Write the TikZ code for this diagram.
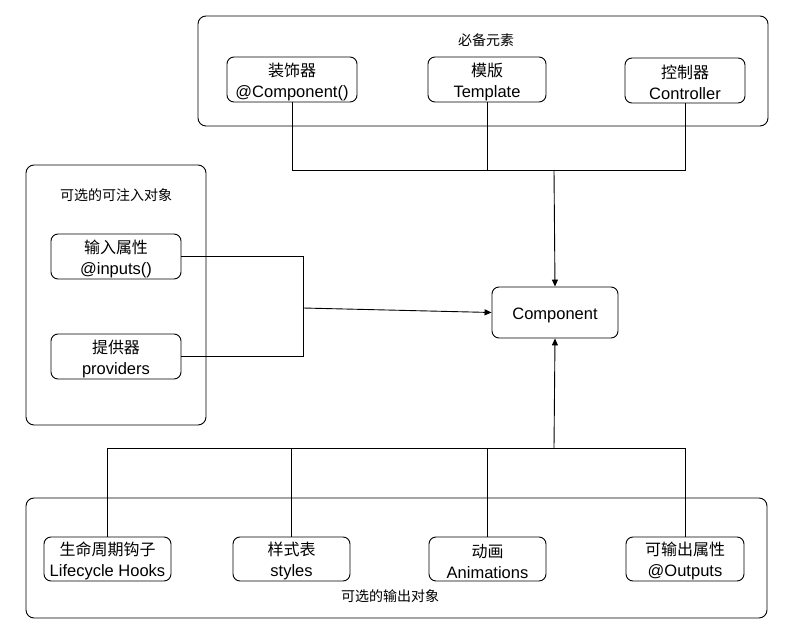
\documentclass[tikz,border=0pt]{standalone}
\usepackage{fontspec}
\setmainfont{Liberation Sans}
\newfontfamily\cjk{Noto Sans CJK SC}
\usetikzlibrary{arrows.meta}
% first (Chinese) line of a two-line box, with a strut to centre the pair
\newcommand\zhline[1]{{\cjk\fontsize{16}{21}\selectfont\rule{0pt}{18pt}#1}}
\begin{document}
\begin{tikzpicture}[x=1pt,y=-1pt,
  line width=0.9pt,
  group/.style={draw,rounded corners=8pt},
  item/.style={draw,rounded corners=7pt,align=center,inner sep=0pt,
    font=\fontsize{16.5}{21}\selectfont,minimum height=45pt},
  title/.style={font=\cjk\fontsize{14}{16}\selectfont},
  link/.style={line width=0.9pt},
  arrowlink/.style={line width=0.9pt,-{Triangle[length=7pt,width=6pt]}}]
\useasboundingbox (0,0) rectangle (807,637);

% groups
\draw[group] (198,16) rectangle (768,126);
\draw[group] (26,165) rectangle (206,425);
\draw[group] (26,498) rectangle (767,618);
\node[title] (tReq) at (486,40) {必备元素};
\node[title] (tIn) at (116,195) {可选的可注入对象};
\node[title] (tOut) at (390,596) {可选的输出对象};

% required elements
\node[item,minimum width=130pt] (deco) at (292,79.5) {\zhline{装饰器}\\@Component()};
\node[item,minimum width=118pt] (tmpl) at (487,79.5) {\zhline{模版}\\Template};
\node[item,minimum width=120pt] (ctrl) at (685,80.5) {\zhline{控制器}\\Controller};

% central component
\node[item,minimum width=126pt,minimum height=51pt] (comp) at (555,312.5) {\rule{0pt}{18pt}Component};

% injectables
\node[item,minimum width=130pt] (inp) at (116,256.5) {\zhline{输入属性}\\@inputs()};
\node[item,minimum width=130pt] (prov) at (116,356.5) {\zhline{提供器}\\providers};

% outputs
\node[item,minimum width=127pt,minimum height=44pt] (life) at (107.5,559) {\zhline{生命周期钩子}\\Lifecycle Hooks};
\node[item,minimum width=117pt,minimum height=44pt] (sty) at (291.5,559) {\zhline{样式表}\\styles};
\node[item,minimum width=117pt,minimum height=44pt] (anim) at (487.5,559) {\zhline{动画}\\Animations};
\node[item,minimum width=118pt,minimum height=44pt] (outp) at (685,559) {\zhline{可输出属性}\\@Outputs};

% junction points
\coordinate (topBus) at (554,170);
\coordinate (leftBus) at (303,308);
\coordinate (botBus) at (554,448);

% top bus
\draw[link] (deco.south) |- (ctrl.south |- topBus) -- (ctrl.south);
\draw[link] (tmpl.south) -- (tmpl.south |- topBus);
\draw[arrowlink] (topBus) -- (comp.north);

% left bus
\draw[link] (inp.east) -| (leftBus |- prov.east) -- (prov.east);
\draw[arrowlink] (leftBus) -- (comp.west);

% bottom bus
\draw[link] (life.north) |- (outp.north |- botBus) -- (outp.north);
\draw[link] (sty.north) -- (sty.north |- botBus);
\draw[link] (anim.north) -- (anim.north |- botBus);
\draw[arrowlink] (botBus) -- (comp.south);
\end{tikzpicture}
\end{document}
